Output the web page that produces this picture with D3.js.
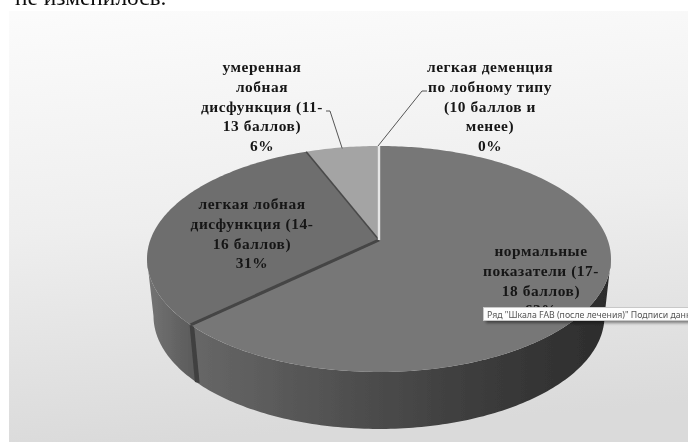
<!DOCTYPE html>
<html><head><meta charset="utf-8">
<script src="https://cdn.jsdelivr.net/npm/d3@7"></script>
<style>html,body{margin:0;padding:0;background:#fff;overflow:hidden}svg{display:block}</style>
</head><body><div id="c"></div>
<script>
const categories=["нормальные показатели (17-18 баллов)","легкая лобная дисфункция (14-16 баллов)","умеренная лобная дисфункция (11-13 баллов)","легкая деменция по лобному типу (10 баллов и менее)"];
const values=[63,31,6,0];
const percentLabels=["63%","31%","6%","0%"];
const labelLines=[["нормальные","показатели (17-","18 баллов)","63%"],["легкая лобная","дисфункция (14-","16 баллов)","31%"],["умеренная","лобная","дисфункция (11-","13 баллов)","6%"],["легкая деменция","по лобному типу","(10 баллов и","менее)","0%"]];
const labelCentres=[[541,251],[252,204],[262,67],[490,67]];
const topFills=["#777777","#6e6e6e","#a4a4a4"];
const W=688,H=442,cx=379,cy=240,A=228.7,B=109.8,k=-0.168,depth=57,shrink=0.972,lh=19.8;
const svg=d3.select("#c").append("svg").attr("width",W).attr("height",H).style("font-family","'Liberation Serif','Times New Roman',serif");
const defs=svg.append("defs");
const bg=defs.append("linearGradient").attr("id","bg").attr("x1","0.12").attr("y1","0").attr("x2","0.24").attr("y2","1");
bg.append("stop").attr("offset","0").attr("stop-color","#fbfbfb");
bg.append("stop").attr("offset","0.5").attr("stop-color","#eeeeee");
bg.append("stop").attr("offset","1").attr("stop-color","#dadada");
const g1=defs.append("linearGradient").attr("id","w0").attr("gradientUnits","userSpaceOnUse").attr("x1",200).attr("x2",610).attr("y1",0).attr("y2",0);
[[0,"#666666"],[0.35,"#505050"],[0.7,"#3b3b3b"],[1,"#2c2c2c"]].forEach(s=>g1.append("stop").attr("offset",s[0]).attr("stop-color",s[1]));
const g2=defs.append("linearGradient").attr("id","w1").attr("gradientUnits","userSpaceOnUse").attr("x1",147).attr("x2",198).attr("y1",0).attr("y2",0);
[[0,"#747474"],[1,"#585858"]].forEach(s=>g2.append("stop").attr("offset",s[0]).attr("stop-color",s[1]));
const sh=defs.append("filter").attr("id","soft").attr("x","-2%").attr("y","-2%").attr("width","104%").attr("height","104%");
sh.append("feGaussianBlur").attr("stdDeviation",0.45);
const tipShadow=defs.append("filter").attr("id","ts").attr("x","-5%").attr("y","-30%").attr("width","110%").attr("height","180%");
tipShadow.append("feGaussianBlur").attr("stdDeviation",1.6);

const root=svg.append("g").attr("filter","url(#soft)");
root.append("rect").attr("x",9).attr("y",11).attr("width",W-9).attr("height",H-11).attr("fill","url(#bg)");
root.append("text").attr("x",15).attr("y",5).attr("font-size",23.4).attr("fill","#111").text("не изменилось.");

const pie=d3.pie().sort(null).value(d=>d)(values);
const proj=a=>{const u=Math.sin(a),v=-Math.cos(a),d=1+k*v;return [cx+A*u/d,cy+B*v/d];};
const low=p=>[cx+(p[0]-cx)*shrink,p[1]+depth];
const samples=(a,b)=>{const n=Math.max(2,Math.ceil(Math.abs(b-a)*60));return d3.range(n+1).map(i=>a+(b-a)*i/n);};
const line=d3.line().curve(d3.curveLinear);
const sideR=Math.acos(k),sideL=2*Math.PI-sideR;

// walls
pie.slice(0,2).forEach((s,i)=>{
  const a=Math.max(s.startAngle,sideR),b=Math.min(s.endAngle,sideL);
  const up=samples(a,b).map(proj),dn=up.map(low).reverse();
  root.append("path").attr("d",line(up.concat(dn))+"Z").attr("fill",`url(#w${i})`);
});
// cut between the two slices on the wall
const cut=proj(pie[0].endAngle);
root.append("path").attr("d",line([[cut[0]-1,cut[1]],[cut[0]+3.5,cut[1]+1],low([cut[0]+3.8,cut[1]+1]),low([cut[0]-1,cut[1]])])+"Z").attr("fill","#3f3f3f");
// tops
pie.slice(0,3).forEach((s,i)=>{
  const pts=[[cx,cy]].concat(samples(s.startAngle,s.endAngle).map(proj));
  root.append("path").attr("d",line(pts)+"Z").attr("fill",topFills[i]);
});
// slice seams
const seam=(a,w,c)=>root.append("path").attr("d",line([[cx,cy],proj(a)])).attr("stroke",c).attr("stroke-width",w).attr("fill","none");
seam(pie[0].endAngle,3,"#444444");
seam(pie[1].endAngle,1.6,"#4a4a4a");
seam(pie[3].startAngle,2.4,"#e6e6e6");
// leaders
const leader=(pts)=>root.append("path").attr("d",line(pts)).attr("stroke","#555").attr("stroke-width",1).attr("fill","none");
const mid2=proj((pie[2].startAngle+pie[2].endAngle)/2);
leader([[mid2[0],mid2[1]+1],[330,111],[326,111]]);
const p3=proj(pie[3].startAngle);
leader([[p3[0]-1,p3[1]],[422,91],[427,91]]);
// labels
labelLines.forEach((ls,i)=>{
  const t=root.append("text").attr("font-weight","bold").attr("font-size",15.4).attr("letter-spacing",0.55).attr("fill","#161616").attr("text-anchor","middle");
  ls.forEach((l,j)=>t.append("tspan").attr("x",labelCentres[i][0]).attr("y",labelCentres[i][1]+j*lh+5).text(l));
});
// tooltip
const tip=root.append("g");
tip.append("rect").attr("x",486).attr("y",310).attr("width",210).attr("height",13).attr("fill","#000").attr("opacity",0.45).attr("filter","url(#ts)");
tip.append("rect").attr("x",483.5).attr("y",307.5).attr("width",210).attr("height",13).attr("fill","#fdfdfd").attr("stroke","#c8c8c8").attr("stroke-width",1);
tip.append("text").attr("x",487).attr("y",317.5).attr("font-family","'Noto Sans',sans-serif").attr("font-size",8.75).attr("fill","#555").text("Ряд \"Шкала FAB (после лечения)\" Подписи данных");
</script></body></html>
